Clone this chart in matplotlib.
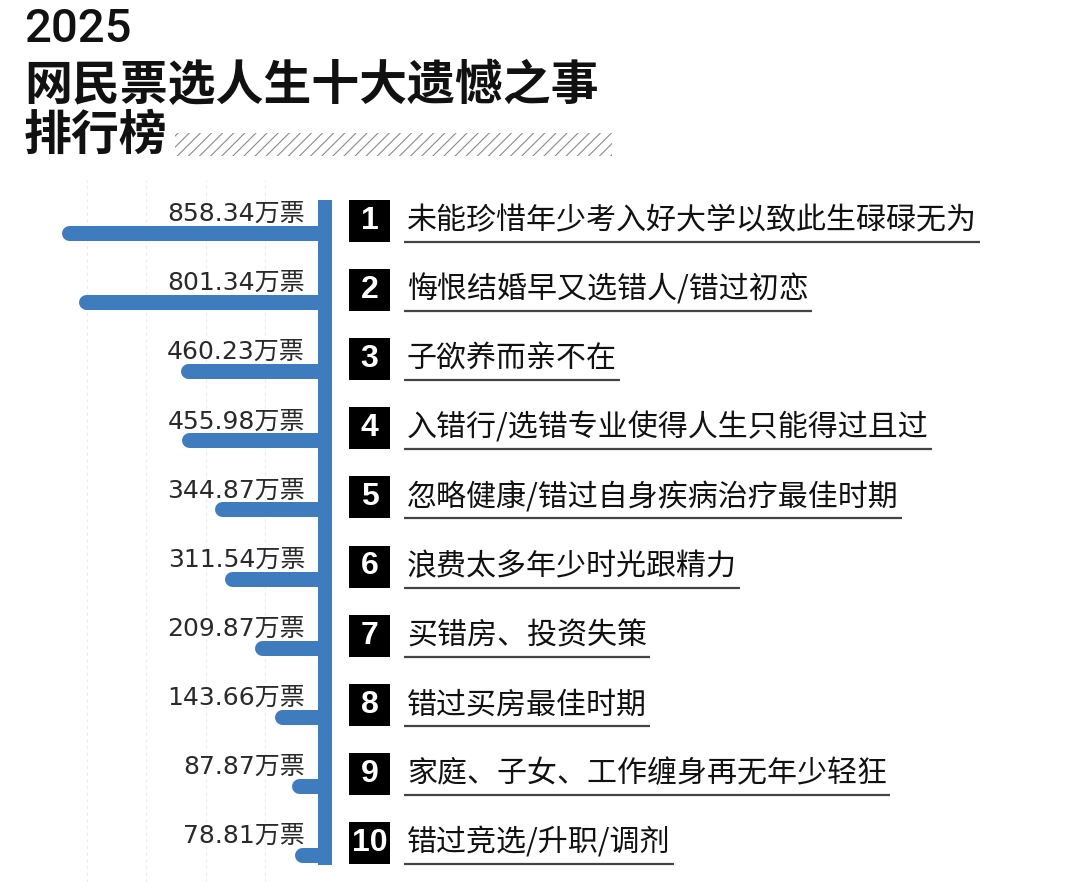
import matplotlib
matplotlib.use("Agg")
import matplotlib.pyplot as plt
from matplotlib import transforms
from matplotlib.patches import Rectangle

# 数据
ranks = ["1", "2", "3", "4", "5", "6", "7", "8", "9", "10"]
votes = [858.34, 801.34, 460.23, 455.98, 344.87, 311.54, 209.87, 143.66, 87.87, 78.81]
items = [
    "未能珍惜年少考入好大学以致此生碌碌无为",
    "悔恨结婚早又选错人/错过初恋",
    "子欲养而亲不在",
    "入错行/选错专业使得人生只能得过且过",
    "忽略健康/错过自身疾病治疗最佳时期",
    "浪费太多年少时光跟精力",
    "买错房、投资失策",
    "错过买房最佳时期",
    "家庭、子女、工作缠身再无年少轻狂",
    "错过竞选/升职/调剂",
]
title_year = "2025"
title_main = "网民票选人生十大遗憾之事"
title_sub = "排行榜"

W, H = 1080, 882
BLUE = "#3e7cbd"
CJK = ["Noto Sans CJK SC", "DejaVu Sans"]

plt.rcParams["hatch.linewidth"] = 0.8

fig = plt.figure(figsize=(W / 100, H / 100), dpi=100)
fig.patch.set_facecolor("white")

# 条形图区域 (像素布局)
row0, row_px = 233, 69.1
px_per_vote = 0.298
ax_l, ax_r, zero_px = 40, 340, 325
ax_t, ax_b = 180, 882
ax = fig.add_axes([ax_l / W, 1 - ax_b / H, (ax_r - ax_l) / W, (ax_b - ax_t) / H])
ax.set_xlim((zero_px - ax_l) / px_per_vote, -(ax_r - zero_px) / px_per_vote)
ax.set_ylim((ax_b - row0) / row_px, (ax_t - row0) / row_px)
ax.set_facecolor("none")
for s in ax.spines.values():
    s.set_visible(False)
ax.set_xticks([200, 400, 600, 800])
ax.set_yticks([])
ax.tick_params(length=0, labelbottom=False)
ax.grid(axis="x", color="#ececec", linestyle=(0, (3, 3)), linewidth=0.8)

# 竖线
n = len(votes)
ax.plot([0, 0], [-33 / row_px, n - 1 + 10 / row_px], color=BLUE,
        linewidth=14 * 0.72, solid_capstyle="butt", zorder=3)

# 横条 + 票数 (圆头收在竖线内)
cap = 7 / px_per_vote
for i, v in enumerate(votes):
    ax.plot([v, cap], [i, i], color=BLUE, linewidth=15 * 0.72,
            solid_capstyle="round", zorder=2)
    ax.annotate(f"{v:.2f}万票", xy=(0, i), xytext=(-20, 19),
                textcoords="offset pixels", ha="right", va="center",
                fontsize=18, color="#2a2a2a", family=["DejaVu Sans", "Noto Sans CJK SC"])

# 右侧排名与事项
trans = transforms.blended_transform_factory(fig.transFigure, ax.transData)
texts = []
for i, (r, t) in enumerate(zip(ranks, items)):
    yc = i - 12 / row_px
    ax.add_patch(Rectangle((349 / W, yc + 21 / row_px), 41 / W, -42 / row_px,
                           transform=trans, facecolor="black", edgecolor="none",
                           clip_on=False, zorder=3))
    ax.text(369.5 / W, yc, r, transform=trans, ha="center", va="center",
            fontsize=23, fontweight="bold", color="white",
            family=["Liberation Sans", "DejaVu Sans"], clip_on=False, zorder=4)
    tx = ax.text(407 / W, yc, t, transform=trans, ha="left", va="center",
                 fontsize=21.6, color="#111111", family=CJK, clip_on=False)
    texts.append((tx, yc))

fig.canvas.draw()
renderer = fig.canvas.get_renderer()
for tx, yc in texts:
    bb = tx.get_window_extent(renderer)
    x0 = (bb.x0 - 3) / W
    x1 = (bb.x1 + 3) / W
    ax.plot([x0, x1], [yc + 21 / row_px] * 2, transform=trans, color="#444444",
            linewidth=1.6, clip_on=False, solid_capstyle="butt")

# 标题
fig.text(24 / W, 1 - 29 / H, title_year, ha="left", va="center", fontsize=34,
         fontweight="medium", color="#111111", family=["Roboto", "DejaVu Sans"])
fig.text(24 / W, 1 - 85 / H, title_main, ha="left", va="center", fontsize=34.5,
         fontweight="black", color="#111111", family=CJK)
fig.text(24 / W, 1 - 135 / H, title_sub, ha="left", va="center", fontsize=34.5,
         fontweight="black", color="#111111", family=CJK)

fig.patches.append(Rectangle((175 / W, 1 - 156 / H), 437 / W, 23 / H,
                             transform=fig.transFigure, fill=False, hatch="///",
                             edgecolor="#8a8a8a", linewidth=0))

fig.savefig("out.png", dpi=100)
